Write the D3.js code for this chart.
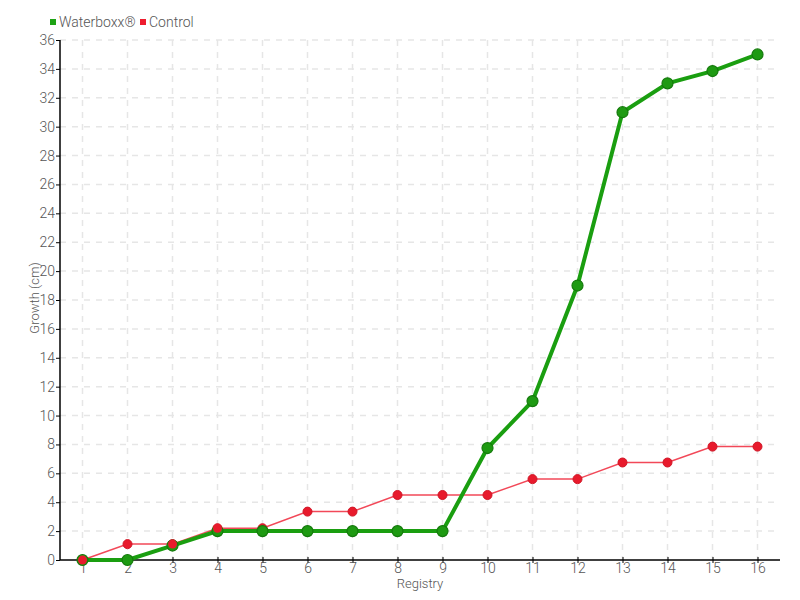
<!DOCTYPE html>
<html><head><meta charset="utf-8">
<script src="https://cdn.jsdelivr.net/npm/d3@7"></script>
<style>body{margin:0;background:#fff}svg{display:block}text{font-family:Roboto,"Open Sans",sans-serif;font-weight:300}</style>
</head><body><svg id="c" width="800" height="600"></svg>
<script>
const registry = [1,2,3,4,5,6,7,8,9,10,11,12,13,14,15,16];
const waterboxx = [0,0,1,2,2,2,2,2,2,7.75,11,19,31,33,33.85,35];
const control = [0,1.1,1.1,2.2,2.2,3.35,3.35,4.5,4.5,4.5,5.6,5.6,6.75,6.75,7.85,7.85];
const yTicks = d3.range(0,37,2);
const seriesNames = ["Waterboxx®","Control"];

const svg = d3.select("#c");
const x = d3.scaleLinear().domain([0.5,16.5]).range([60,780]);
const y = d3.scaleLinear().domain([0,36]).range([560,40]);
const grey = "#555";

// grid
svg.append("g").selectAll("line").data(yTicks.slice(1)).join("line")
  .attr("x1",60).attr("x2",780).attr("y1",d=>y(d)).attr("y2",d=>y(d))
  .attr("stroke","#e6e6e6").attr("stroke-width",1.5).attr("stroke-dasharray","6,6");
svg.append("g").selectAll("line").data(registry).join("line")
  .attr("x1",d=>x(d)).attr("x2",d=>x(d)).attr("y1",40).attr("y2",560)
  .attr("stroke","#e6e6e6").attr("stroke-width",1.5).attr("stroke-dasharray","6,6");

// axes
const xa = svg.append("g").attr("transform","translate(0,560)")
  .call(d3.axisBottom(x).tickValues(registry).tickSize(4).tickFormat(d3.format("d")));
xa.select(".domain").attr("d","M60,0H780").attr("stroke","#000").attr("stroke-width",1.5);
xa.selectAll(".tick line").attr("y1",-3).attr("y2",3).attr("stroke","#000");
xa.selectAll("text").attr("fill",grey).attr("font-size",14).attr("y",3).attr("dy","0.71em");

const ya = svg.append("g").attr("transform","translate(60,0)")
  .call(d3.axisLeft(y).tickValues(yTicks).tickSize(4));
ya.select(".domain").attr("d","M0,40V560").attr("stroke","#000").attr("stroke-width",1.5);
ya.selectAll(".tick line").attr("stroke","#000");
ya.selectAll("text").attr("fill",grey).attr("font-size",14).attr("x",-5);

svg.append("text").attr("x",420).attr("y",588).attr("text-anchor","middle")
  .attr("fill",grey).attr("font-size",13).text("Registry");
svg.append("text").attr("transform","translate(39,298) rotate(-90)").attr("text-anchor","middle")
  .attr("fill",grey).attr("font-size",13).text("Growth (cm)");

// lines
const line = d3.line().x((d,i)=>x(registry[i])).y(d=>y(d));
svg.append("path").datum(control).attr("d",line).attr("fill","none")
  .attr("stroke","#f24858").attr("stroke-width",1.5);
svg.append("path").datum(waterboxx).attr("d",line).attr("fill","none")
  .attr("stroke","#1a9e10").attr("stroke-width",4);

svg.append("g").selectAll("circle").data(control).join("circle")
  .attr("cx",(d,i)=>x(registry[i])).attr("cy",d=>y(d)).attr("r",4.5)
  .attr("fill","#e81a2c").attr("stroke","#d01525").attr("stroke-width",1);
svg.append("g").selectAll("circle").data(waterboxx).join("circle")
  .attr("cx",(d,i)=>x(registry[i])).attr("cy",d=>y(d)).attr("r",5.5)
  .attr("fill","#1e9a12").attr("stroke","#157a0c").attr("stroke-width",1.2);
// some control points are drawn over the green ones in the reference
[0,2,3].forEach(i=>{
  svg.append("circle").attr("cx",x(registry[i])).attr("cy",y(control[i])).attr("r",4.5).attr("fill","#e81a2c");
});

// legend
const leg = [{n:seriesNames[0],c:"#1ea316",x:50},{n:seriesNames[1],c:"#ee1c2e",x:140}];
leg.forEach(l=>{
  svg.append("rect").attr("x",l.x).attr("y",19).attr("width",6).attr("height",6).attr("fill",l.c);
  svg.append("text").attr("x",l.x+9).attr("y",27).attr("fill",grey).attr("font-size",14).text(l.n);
});
</script></body></html>
